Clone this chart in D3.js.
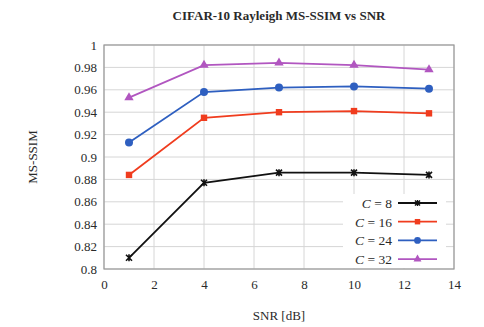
<!DOCTYPE html>
<html><head><meta charset="utf-8">
<script src="https://cdn.jsdelivr.net/npm/d3@7"></script>
<style>body{margin:0;background:#fff}svg{display:block}text{font-family:"Liberation Serif","Times New Roman","DejaVu Serif",serif}</style>
</head><body><svg id="c" width="484" height="327"></svg>
<script>
const snr = [1, 4, 7, 10, 13];
const c8 = [0.810, 0.877, 0.886, 0.886, 0.884];
const c16 = [0.884, 0.935, 0.940, 0.941, 0.939];
const c24 = [0.913, 0.958, 0.962, 0.963, 0.961];
const c32 = [0.953, 0.982, 0.984, 0.982, 0.978];
const seriesNames = ["8", "16", "24", "32"];
const xTicks = [0, 2, 4, 6, 8, 10, 12, 14];
const yTicks = [0.8, 0.82, 0.84, 0.86, 0.88, 0.9, 0.92, 0.94, 0.96, 0.98, 1];

const svg = d3.select("#c");
const L = 104, R = 454, T = 45, B = 269;
const x = d3.scaleLinear().domain([0, 14]).range([L, R]);
const y = d3.scaleLinear().domain([0.8, 1]).range([B, T]);
const txt = "#2a2a2a";

svg.append("text").attr("x", 279).attr("y", 20).attr("text-anchor", "middle")
  .attr("font-size", 13).attr("font-weight", "bold").attr("fill", txt).text("CIFAR-10 Rayleigh MS-SSIM vs SNR");

// grid
const g = svg.append("g");
g.selectAll(".gx").data(xTicks).join("line").attr("x1", d => x(d)).attr("x2", d => x(d))
  .attr("y1", T).attr("y2", B).attr("stroke", "#d6d6d6").attr("stroke-width", 1);
g.selectAll(".gy").data(yTicks).join("line").attr("y1", d => y(d)).attr("y2", d => y(d))
  .attr("x1", L).attr("x2", R).attr("stroke", "#d6d6d6").attr("stroke-width", 1);

// axes
const ax = svg.append("g").attr("transform", `translate(0,${B})`)
  .call(d3.axisBottom(x).tickValues(xTicks).tickSize(0).tickPadding(11).tickFormat(d3.format("d")));
ax.select(".domain").remove();
ax.selectAll("text").attr("font-size", 13).attr("fill", txt);
const ay = svg.append("g").attr("transform", `translate(${L},0)`)
  .call(d3.axisLeft(y).tickValues(yTicks).tickSize(0).tickPadding(7).tickFormat(d => d3.format("~g")(+d.toFixed(2))));
ay.select(".domain").remove();
ay.selectAll("text").attr("font-size", 13).attr("fill", txt);

svg.append("rect").attr("x", L).attr("y", T).attr("width", R - L).attr("height", B - T)
  .attr("fill", "none").attr("stroke", "#999").attr("stroke-width", 1.2);

svg.append("text").attr("x", 279).attr("y", 320).attr("text-anchor", "middle").attr("font-size", 13).attr("fill", txt).text("SNR [dB]");
svg.append("text").attr("transform", "translate(37,157) rotate(-90)").attr("text-anchor", "middle").attr("font-size", 13).attr("fill", txt).text("MS-SSIM");

const colors = ["#111111", "#f03c1e", "#2e5fc0", "#b156c0"];
const shapes = ["x", "square", "circle", "triangle"];
const data = [c8, c16, c24, c32];

function marker(sel, shape, color) {
  if (shape === "x") {
    sel.append("path").attr("d", "M-3,-3L3,3M-3,3L3,-3M0,-3.5L0,3.5").attr("stroke", color).attr("stroke-width", 1.6).attr("fill", "none");
  } else if (shape === "square") {
    sel.append("rect").attr("x", -3.2).attr("y", -3.2).attr("width", 6.4).attr("height", 6.4).attr("fill", color);
  } else if (shape === "circle") {
    sel.append("circle").attr("r", 4).attr("fill", color);
  } else {
    sel.append("path").attr("d", d3.symbol(d3.symbolTriangle, 38)()).attr("fill", color);
  }
}

const line = d3.line().x(d => x(d[0])).y(d => y(d[1]));
data.forEach((vals, i) => {
  const pts = snr.map((s, j) => [s, vals[j]]);
  svg.append("path").attr("d", line(pts)).attr("fill", "none").attr("stroke", colors[i]).attr("stroke-width", 1.8);
  pts.forEach(p => {
    const m = svg.append("g").attr("transform", `translate(${x(p[0])},${y(p[1])})`);
    marker(m, shapes[i], colors[i]);
  });
});

// legend
const lg = svg.append("g");
lg.append("rect").attr("x", 343).attr("y", 194).attr("width", 103).attr("height", 74).attr("fill", "#fff");
seriesNames.forEach((n, i) => {
  const yy = 203 + i * 18.7;
  const t = lg.append("text").attr("x", 392).attr("y", yy + 5).attr("text-anchor", "end").attr("font-size", 13.5).attr("fill", txt);
  t.append("tspan").attr("font-style", "italic").text("C");
  t.append("tspan").text(" = " + n);
  lg.append("line").attr("x1", 398).attr("x2", 437).attr("y1", yy).attr("y2", yy).attr("stroke", colors[i]).attr("stroke-width", 1.8);
  const m = lg.append("g").attr("transform", `translate(417.5,${yy}) scale(0.85)`);
  marker(m, shapes[i], colors[i]);
});
</script></body></html>
